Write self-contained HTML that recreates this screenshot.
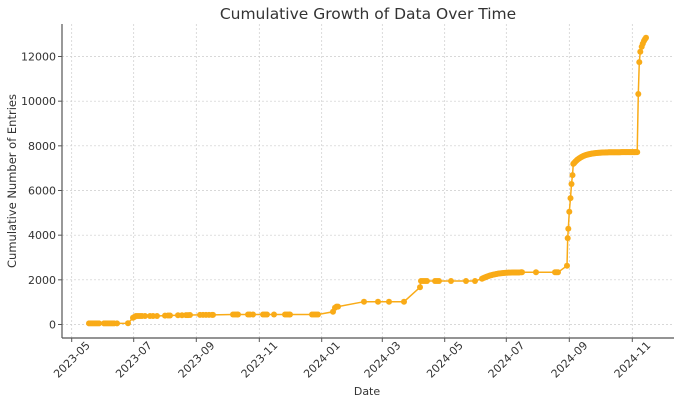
<!DOCTYPE html>
<html><head><meta charset="utf-8"><style>
html,body{margin:0;padding:0;background:#fff;}
svg{display:block;font-family:"DejaVu Sans","Liberation Sans",sans-serif;}
</style></head><body>
<svg id="s" width="680" height="405" viewBox="0 0 680 405">
<text x="368" y="19" font-size="15.5" fill="#333" text-anchor="middle">Cumulative Growth of Data Over Time</text>
<g id="grid" stroke="#ccc" stroke-width="0.7" stroke-dasharray="2,2"></g>
<g id="ax"></g>
<polyline id="ln" fill="none" stroke="#f9ab17" stroke-width="1.5"/>
<g id="pts" fill="#f9ab17"></g>
<line x1="62" y1="24" x2="62" y2="338" stroke="#555" stroke-width="1.2"/>
<line x1="62" y1="338" x2="674" y2="338" stroke="#555" stroke-width="1.2"/>
<text x="367" y="395" font-size="11" fill="#333" text-anchor="middle">Date</text>
<text transform="translate(16,181) rotate(-90)" font-size="11.5" fill="#333" text-anchor="middle">Cumulative Number of Entries</text>
</svg>
<script>
var NS="http://www.w3.org/2000/svg";
function Y(v){return 324.5-v*0.022333;}
function el(p,t,a,txt){var e=document.createElementNS(NS,t);for(var k in a)e.setAttribute(k,a[k]);if(txt)e.textContent=txt;document.getElementById(p).appendChild(e);}
var xt=[[71.7,"2023-05"],[133.7,"2023-07"],[196.3,"2023-09"],[259.3,"2023-11"],[321.7,"2024-01"],[382.3,"2024-03"],[444.7,"2024-05"],[506.3,"2024-07"],[569.3,"2024-09"],[632.3,"2024-11"]];
xt.forEach(function(t){el("grid","line",{x1:t[0],x2:t[0],y1:24,y2:338});
el("ax","line",{x1:t[0],x2:t[0],y1:338,y2:342,stroke:"#555"});
el("ax","text",{transform:"translate("+(t[0]+19)+",346) rotate(-45)","font-size":"11",fill:"#333","text-anchor":"end"},t[1]);});
for(var v=0;v<=12000;v+=2000){var y=Y(v);el("grid","line",{x1:62,x2:674,y1:y,y2:y});
el("ax","line",{x1:58,x2:62,y1:y,y2:y,stroke:"#555"});
el("ax","text",{x:56,y:y+4,"font-size":"11",fill:"#333","text-anchor":"end"},String(v));}
var P=[];
function a(x,v){P.push([x,v]);}
[89,91,93,95,97,99,104,106,108,110,112,114,117].forEach(function(x){a(x,50);});
a(128,60);a(133,300);a(134.5,340);
[136,138,140,142,145,150,153,157].forEach(function(x){a(x,380);});
[165,168,170,178,182,186,188,190].forEach(function(x){a(x,400+(x-165));});
[200,203,206,209,212,213].forEach(function(x){a(x,430);});
[233,235,237,238,248,250,253,263,265,267,274,285,287,289,290,312,314,316,318].forEach(function(x){a(x,450);});
a(333,570);a(335,750);a(336.5,800);a(338,800);
[364,378,389,404].forEach(function(x){a(x,1020);});
a(420,1665);a(421,1950);a(423,1950);a(425,1950);a(427,1950);a(435,1950);a(437,1950);a(439,1950);a(451,1950);a(466,1950);a(475,1950);
for(var x=482;x<=520;x+=1.2){var t=(x-482)/38;a(x,2050+280*(1-Math.pow(1-t,3)));}
for(x=521;x<=522;x+=1)a(x,2337);
a(536,2337);a(555,2337);a(556.5,2337);a(558,2337);
a(567,2633);a(567.7,3870);a(568.3,4290);a(569.3,5050);a(570.5,5660);a(571.5,6290);a(572.5,6690);a(573.3,7190);
for(x=574;x<=637.5;x+=0.8){var u=(x-574);a(x,7720-500*Math.exp(-u/9));}
a(638.3,10320);a(639.3,11750);a(640.3,12215);a(641.7,12440);a(642.8,12580);a(644,12700);a(645,12780);a(646,12840);
document.getElementById("ln").setAttribute("points",P.map(function(p){return p[0]+","+Y(p[1]).toFixed(1);}).join(" "));
P.forEach(function(p){el("pts","circle",{cx:p[0],cy:Y(p[1]).toFixed(1),r:3});});
</script>
</body></html>
